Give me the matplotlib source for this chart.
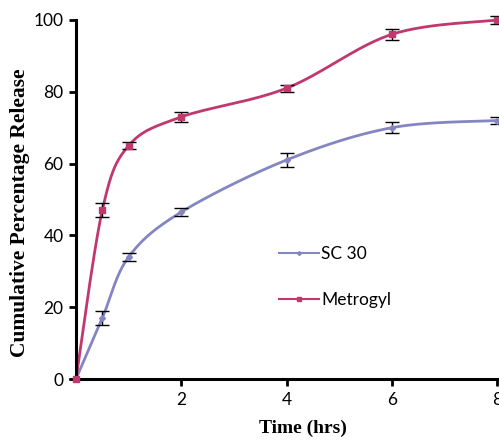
import numpy as np
import matplotlib
matplotlib.use("Agg")
import matplotlib.pyplot as plt

time = [0, 0.5, 1, 2, 4, 6, 8]
sc30 = [0, 17, 34, 46.5, 61, 70, 72]
sc30_err = [0, 2, 1, 1, 2, 1.5, 1]
metrogyl = [0, 47, 65, 73, 81, 96, 100]
metrogyl_err = [0, 2, 1, 1.5, 1, 1.5, 1]

def smooth(x, y, n=30):
    # Catmull-Rom style smoothing for drawing the line
    x = np.asarray(x, float); y = np.asarray(y, float)
    px = np.concatenate([[x[0]], x, [x[-1]]])
    py = np.concatenate([[y[0]], y, [y[-1]]])
    xs, ys = [], []
    for i in range(1, len(px) - 2):
        p0, p1, p2, p3 = (np.array([px[j], py[j]]) for j in (i - 1, i, i + 1, i + 2))
        t = np.linspace(0, 1, n)[:, None]
        c1 = p1 + (p2 - p0) / 6
        c2 = p2 - (p3 - p1) / 6
        pts = (1 - t) ** 3 * p1 + 3 * (1 - t) ** 2 * t * c1 + 3 * (1 - t) * t ** 2 * c2 + t ** 3 * p2
        xs.extend(pts[:, 0]); ys.extend(pts[:, 1])
    return xs, ys

c_sc = "#8585C2"
c_me = "#C0386E"

fig = plt.figure(figsize=(4.99, 4.40), dpi=100)
ax = fig.add_axes([76 / 499, 1 - 379 / 440, (497 - 76) / 499, (379 - 20) / 440])

for x, y, e, c, m, ms, lab in [(time, sc30, sc30_err, c_sc, "D", 3, "SC 30"),
                               (time, metrogyl, metrogyl_err, c_me, "s", 4.5, "Metrogyl")]:
    sx, sy = smooth(x, y)
    ax.plot(sx, sy, color=c, lw=2, zorder=2)
    ax.errorbar(x, y, yerr=e, fmt="none", ecolor="black", elinewidth=1, capsize=5, zorder=3)
    ax.plot(x, y, ls="none", marker=m, ms=ms, color=c, zorder=4)
    ax.plot([], [], color=c, lw=1.5, marker=m, ms=ms - 1, label=lab)

ax.set_xlim(0, 8)
ax.set_ylim(0, 100)
ax.set_xticks([2, 4, 6, 8])
ax.set_yticks([0, 20, 40, 60, 80, 100])
for s in ["top", "right"]:
    ax.spines[s].set_visible(False)
for s in ["left", "bottom"]:
    ax.spines[s].set_linewidth(2.2)
ax.tick_params(axis="both", direction="out", length=5, width=2, labelsize=12.5, pad=4)
for lbl in ax.get_xticklabels() + ax.get_yticklabels():
    lbl.set_fontfamily("Lato")
ax.set_xlabel("Time (hrs)", fontfamily="Liberation Serif", fontweight="bold", fontsize=14)
ax.xaxis.set_label_coords(0.539, -0.138)
ax.set_ylabel("Cumulative Percentage Release", fontfamily="Liberation Serif", fontweight="bold",
              fontsize=15.5)
ax.yaxis.set_label_coords(-0.133, 0.462)
ax.xaxis.label.set_va("center")
ax.yaxis.label.set_va("center")
leg = ax.legend(loc="upper left", bbox_to_anchor=(0.446, 0.414), frameon=False,
                handlelength=2.3, handletextpad=0.1, labelspacing=1.75,
                prop={"family": "Lato", "size": 12.5})
for l in ax.lines:
    l.set_clip_on(False)
fig.savefig("out.png", dpi=100)
